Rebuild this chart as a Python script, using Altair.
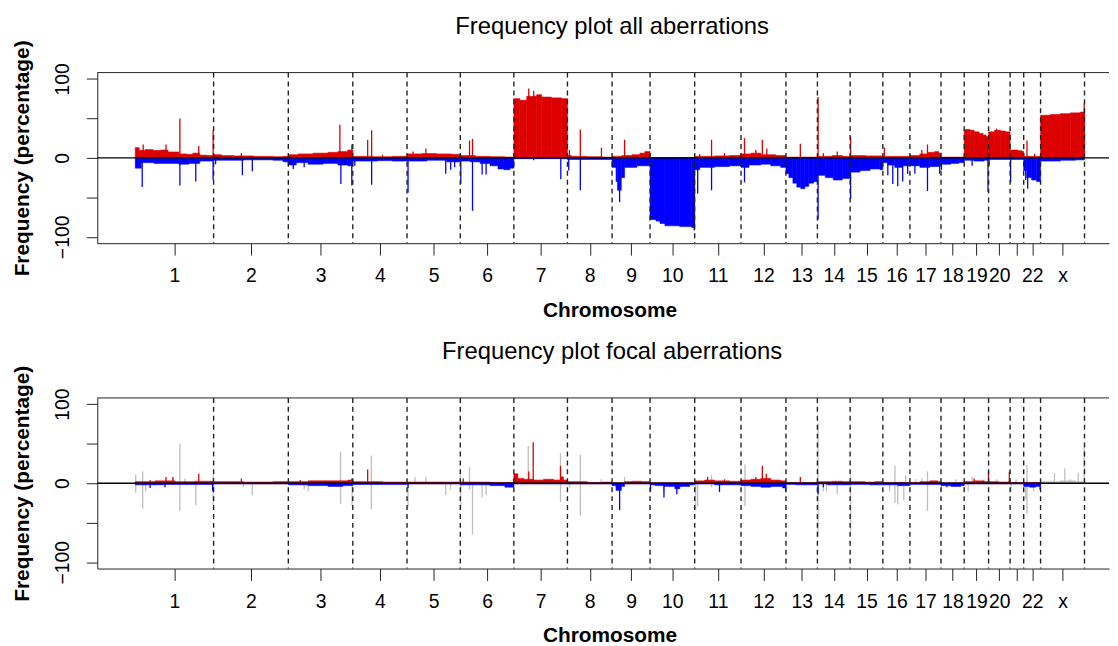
import json
from collections import defaultdict

import altair as alt
import pandas as pd

# ---------------- data ----------------
chrom_names = ["1", "2", "3", "4", "5", "6", "7", "8", "9", "10", "11", "12",
               "13", "14", "15", "16", "17", "18", "19", "20", "21", "22", "x"]
# relative chromosome lengths (probe-position units)
chrom_sizes = [790, 753, 650, 547, 537, 540, 540, 450, 383, 450, 467, 453,
               317, 330, 330, 273, 313, 234, 246, 217, 137, 170, 443]
unlabelled_ticks = ["21"]
y_ticks = [-100, -50, 0, 50, 100]
y_labelled = [-100, 0, 100]
panel_titles = ["Frequency plot all aberrations", "Frequency plot focal aberrations"]

# (chromosome, position within chromosome, frequency %) step profiles
all_gain_steps = [
    ("1", 0, 13), ("1", 40, 9.5), ("1", 100, 10.5), ("1", 180, 9.5), ("1", 260, 10), ("1", 330, 7.5),
    ("1", 440, 5), ("1", 520, 4.5), ("1", 580, 6), ("1", 650, 3.5), ("1", 720, 3),
    ("2", 0, 4), ("2", 80, 3), ("2", 200, 2.5), ("2", 400, 2), ("2", 600, 1.5), ("2", 700, 2),
    ("3", 0, 4), ("3", 100, 5), ("3", 250, 6), ("3", 400, 7), ("3", 500, 8), ("3", 600, 10),
    ("4", 0, 2), ("4", 200, 1.5), ("4", 400, 2),
    ("5", 0, 5), ("5", 150, 5.5), ("5", 300, 5), ("5", 450, 4.5),
    ("6", 0, 3), ("6", 150, 2), ("6", 300, 1.5), ("6", 450, 1),
    ("7", 0, 75), ("7", 60, 73), ("7", 130, 78), ("7", 230, 80), ("7", 280, 77), ("7", 380, 76), ("7", 480, 75),
    ("8", 0, 3), ("8", 40, 2), ("8", 200, 1.5), ("8", 350, 1),
    ("9", 0, 2), ("9", 100, 3), ("9", 200, 4), ("9", 280, 6), ("9", 330, 8),
    ("10", 0, 0.5),
    ("11", 0, 2), ("11", 200, 2.5), ("11", 350, 3),
    ("12", 0, 5), ("12", 100, 6), ("12", 200, 4), ("12", 350, 3),
    ("13", 0, 1),
    ("14", 0, 2), ("14", 150, 3), ("14", 250, 2),
    ("15", 0, 3), ("15", 150, 2.5),
    ("16", 0, 2),
    ("17", 0, 3), ("17", 100, 5), ("17", 180, 7), ("17", 250, 8), ("17", 290, 6),
    ("18", 0, 1),
    ("19", 0, 36), ("19", 60, 35), ("19", 100, 33), ("19", 150, 31), ("19", 190, 29), ("19", 220, 27),
    ("20", 0, 33), ("20", 60, 35), ("20", 120, 34), ("20", 170, 33),
    ("21", 0, 10), ("21", 80, 9), ("21", 120, 8),
    ("22", 0, 2),
    ("x", 0, 54), ("x", 100, 55), ("x", 200, 56), ("x", 300, 57), ("x", 400, 58),
]
all_loss_steps = [
    ("1", 0, -13), ("1", 60, -6), ("1", 190, -7), ("1", 440, -8), ("1", 540, -7), ("1", 650, -4),
    ("2", 0, -3), ("2", 300, -2.5), ("2", 600, -3), ("2", 700, -5),
    ("3", 0, -9), ("3", 80, -6), ("3", 200, -8), ("3", 350, -7), ("3", 500, -9), ("3", 600, -10),
    ("4", 0, -4), ("4", 250, -3.5), ("4", 400, -4),
    ("5", 0, -4), ("5", 200, -3), ("5", 400, -5),
    ("6", 0, -4), ("6", 100, -5), ("6", 200, -7), ("6", 300, -10), ("6", 380, -14), ("6", 440, -15), ("6", 500, -13),
    ("7", 0, -1),
    ("8", 0, -2),
    ("9", 0, -12), ("9", 40, -30), ("9", 55, -41), ("9", 93, -25), ("9", 126, -12), ("9", 250, -10),
    ("10", 0, -78), ("10", 60, -80), ("10", 100, -83), ("10", 150, -86), ("10", 300, -87), ("10", 420, -88),
    ("11", 0, -15), ("11", 50, -12), ("11", 200, -11), ("11", 350, -10),
    ("12", 0, -12), ("12", 80, -9), ("12", 200, -8), ("12", 300, -10), ("12", 400, -12),
    ("13", 0, -20), ("13", 30, -25), ("13", 70, -32), ("13", 110, -37), ("13", 150, -39), ("13", 190, -36),
    ("13", 230, -32), ("13", 280, -30),
    ("14", 0, -22), ("14", 80, -25), ("14", 160, -28), ("14", 250, -26),
    ("15", 0, -18), ("15", 100, -16), ("15", 200, -14), ("15", 300, -15),
    ("16", 0, -6), ("16", 50, -9), ("16", 120, -12), ("16", 200, -10),
    ("17", 0, -10), ("17", 100, -12), ("17", 200, -11), ("17", 300, -8),
    ("18", 0, -8), ("18", 100, -7), ("18", 180, -6),
    ("19", 0, -3), ("19", 100, -4), ("19", 200, -3),
    ("20", 0, -2),
    ("21", 0, -2),
    ("22", 0, -16), ("22", 30, -25), ("22", 80, -28), ("22", 130, -30),
    ("x", 0, -4), ("x", 200, -3), ("x", 350, -2.5),
]
all_gain_spikes = [
    ("1", 80, 17), ("1", 310, 17), ("1", 450, 50), ("1", 640, 15), ("1", 785, 35),
    ("2", 280, 6), ("3", 520, 42), ("3", 640, 17),
    ("4", 150, 23), ("4", 190, 35), ("4", 300, 4), ("5", 60, 8), ("5", 190, 12),
    ("6", 93, 22), ("6", 123, 24), ("7", 150, 88), ("7", 200, 85),
    ("8", 20, 10), ("8", 130, 36), ("8", 343, 13), ("9", 126, 23),
    ("11", 50, 5), ("11", 170, 23), ("11", 300, 6),
    ("12", 35, 25), ("12", 150, 10), ("12", 215, 23), ("12", 260, 12),
    ("13", 145, 18), ("14", 7, 77), ("14", 60, 6), ("14", 200, 8),
    ("15", 5, 27), ("16", 15, 13), ("17", 120, 10), ("17", 177, 17),
    ("20", 80, 37), ("22", 33, 22), ("22", 110, 5), ("x", 440, 69),
]
all_loss_spikes = [
    ("1", 70, -37), ("1", 450, -35), ("1", 610, -30), ("1", 785, -28),
    ("2", 20, -8), ("2", 290, -22), ("2", 390, -17),
    ("3", 50, -14), ("3", 160, -12), ("3", 530, -33), ("3", 640, -35),
    ("4", 20, -10), ("4", 190, -34),
    ("5", 10, -44), ("5", 390, -20), ("5", 440, -15), ("5", 480, -12),
    ("6", 5, -33), ("6", 123, -67), ("6", 220, -21), ("6", 260, -21),
    ("7", 200, -3), ("7", 473, -27), ("8", 13, -16), ("8", 130, -41),
    ("9", 76, -56), ("10", 445, -92), ("11", 30, -45), ("11", 170, -41),
    ("12", 35, -31), ("14", 7, -78), ("15", 5, -52),
    ("16", 50, -22), ("16", 100, -33), ("16", 150, -36), ("16", 200, -30), ("16", 250, -20),
    ("17", 50, -20), ("17", 177, -42), ("17", 300, -20), ("18", 5, -15),
    ("19", 80, -10), ("19", 240, -43), ("20", 5, -10), ("21", 5, -31),
    ("22", 20, -28), ("22", 40, -39),
]

focal_gain_steps = [
    ("1", 0, 2), ("1", 200, 3), ("1", 400, 2), ("1", 600, 2.5),
    ("2", 0, 2), ("2", 300, 1.5), ("2", 600, 2),
    ("3", 0, 2), ("3", 200, 3), ("3", 600, 4),
    ("4", 0, 2), ("4", 300, 1.5),
    ("5", 0, 1.5),
    ("6", 0, 1.5), ("6", 300, 1),
    ("7", 0, 12), ("7", 40, 6), ("7", 100, 5), ("7", 200, 4), ("7", 300, 5), ("7", 400, 4), ("7", 470, 8), ("7", 500, 4),
    ("8", 0, 2), ("8", 200, 1), ("8", 350, 1.5),
    ("9", 0, 0.5), ("9", 126, 2), ("9", 200, 2.5), ("9", 300, 2),
    ("10", 0, 0.5),
    ("11", 0, 3), ("11", 100, 4), ("11", 200, 3), ("11", 350, 2.5),
    ("12", 0, 4), ("12", 100, 5), ("12", 200, 6), ("12", 300, 4), ("12", 400, 3),
    ("13", 0, 1),
    ("14", 0, 2), ("14", 150, 2.5), ("14", 250, 2),
    ("15", 0, 2), ("15", 150, 1.5), ("15", 250, 2),
    ("16", 0, 1),
    ("17", 0, 1), ("17", 100, 2), ("17", 200, 3), ("17", 280, 2),
    ("18", 0, 0.5),
    ("19", 0, 2), ("19", 100, 3), ("19", 200, 2),
    ("20", 0, 2), ("20", 100, 1.5), ("20", 200, 2),
    ("21", 0, 1),
    ("22", 0, 1),
]
focal_loss_steps = [
    ("1", 0, -2), ("1", 300, -1.5),
    ("2", 0, -1),
    ("3", 0, -2), ("3", 200, -3), ("3", 400, -4), ("3", 550, -3),
    ("4", 0, -1.5),
    ("5", 0, -1),
    ("6", 0, -2), ("6", 300, -3), ("6", 450, -5),
    ("7", 0, -1),
    ("8", 0, -1),
    ("9", 0, -3), ("9", 40, -9), ("9", 93, -4), ("9", 126, -1),
    ("10", 0, -2), ("10", 50, -3), ("10", 140, -4), ("10", 250, -7), ("10", 300, -4), ("10", 400, -2),
    ("11", 0, -1), ("11", 200, -2),
    ("12", 0, -3), ("12", 100, -4), ("12", 200, -5), ("12", 300, -4), ("12", 420, -6),
    ("13", 0, -1.5), ("13", 100, -2),
    ("14", 0, -1), ("14", 100, -2),
    ("15", 0, -1.5), ("15", 200, -2),
    ("16", 0, -2), ("16", 150, -3),
    ("17", 0, -1.5),
    ("18", 0, -3), ("18", 100, -4), ("18", 200, -3),
    ("19", 0, -1),
    ("20", 0, -1),
    ("21", 0, -1),
    ("22", 0, -4), ("22", 60, -5), ("22", 120, -4),
]
focal_gain_spikes = [
    ("1", 150, 4), ("1", 310, 8), ("1", 380, 8), ("1", 640, 12),
    ("2", 280, 6), ("3", 120, 4), ("3", 640, 6), ("4", 150, 17.5), ("6", 30, 6),
    ("7", 150, 15), ("7", 195, 52), ("7", 470, 22),
    ("11", 130, 8), ("11", 300, 5), ("12", 150, 8), ("12", 215, 22), ("12", 255, 12),
    ("13", 145, 8), ("19", 100, 6), ("19", 245, 15), ("20", 209, 15),
]
focal_loss_spikes = [
    ("1", 150, -6), ("1", 300, -5), ("1", 780, -10), ("5", 10, -6),
    ("9", 76, -34), ("10", 5, -10), ("10", 140, -18), ("10", 270, -14),
    ("11", 250, -11), ("12", 450, -10), ("14", 7, -14), ("14", 60, -5),
    ("18", 60, -5), ("22", 165, -8),
]
focal_other_spikes = [
    ("1", 5, 11), ("1", 5, -12), ("1", 75, 15), ("1", 75, -32), ("1", 105, -10), ("1", 380, 6),
    ("1", 450, 50), ("1", 450, -35), ("1", 500, 6), ("1", 610, -28), ("1", 785, 10), ("1", 785, -28),
    ("2", 300, -5), ("2", 390, -15),
    ("3", 160, -8), ("3", 200, -10), ("3", 527, 40), ("3", 527, -26), ("3", 643, -28),
    ("4", 187, 35), ("4", 187, -33),
    ("5", 10, -30), ("5", 80, 8), ("5", 190, 8), ("5", 390, -15), ("5", 440, -8),
    ("6", 0, 10), ("6", 5, -30), ("6", 93, 20), ("6", 93, -8), ("6", 123, -65), ("6", 220, -18), ("6", 260, -15),
    ("7", 145, 47), ("7", 470, 38), ("7", 470, -24),
    ("8", 20, -5), ("8", 130, 36), ("8", 130, -41), ("8", 340, 5),
    ("9", 40, -5), ("9", 126, 8),
    ("10", 140, -12), ("10", 200, -5),
    ("11", 10, -34), ("11", 30, -29), ("11", 170, 10), ("11", 170, -5),
    ("12", 40, 24), ("12", 40, -29),
    ("14", 7, 76), ("14", 7, -68), ("14", 60, -10), ("14", 90, -10), ("14", 200, -14),
    ("15", 5, -60), ("15", 5, 10),
    ("16", 68, -10), ("16", 122, 22), ("16", 122, -25), ("16", 150, -27), ("16", 211, -22), ("16", 230, 10),
    ("17", 60, 5), ("17", 120, 6), ("17", 177, 15), ("17", 177, -35),
    ("18", 5, -10), ("18", 150, 5),
    ("19", 40, -10), ("19", 80, 8), ("19", 200, 5),
    ("20", 80, 5), ("21", 10, -10), ("21", 60, 5),
    ("22", 20, -20), ("22", 33, 23), ("22", 33, -39), ("22", 100, -10),
    ("x", 140, 13), ("x", 245, 19), ("x", 300, 5), ("x", 380, 13), ("x", 440, 45),
]
focal_other_steps = [("x", 0, 2), ("x", 200, 3), ("x", 350, 2)]

# ---------------- derived positions ----------------
size_of = dict(zip(chrom_names, chrom_sizes))
offset_of = {}
acc = 0
for n, s in zip(chrom_names, chrom_sizes):
    offset_of[n] = acc
    acc += s
genome_len = acc
x_pad = round(genome_len * 0.04)
chrom_ends = [offset_of[n] + size_of[n] for n in chrom_names]
chrom_centers = [offset_of[n] + size_of[n] / 2 for n in chrom_names]

W, H = 1020, 172
x_domain = [-x_pad, -x_pad + W * 10]
y_domain = [-108, 108]

RED, BLUE, GREY = "#dc0000", "#0000ff", "#bebebe"
FONT = "Liberation Sans"
INK = "#222222"


def steps_df(steps):
    by = defaultdict(list)
    for c, s, v in steps:
        by[c].append((s, v))
    rows = []
    for c, lst in by.items():
        lst.sort()
        for i, (s, v) in enumerate(lst):
            e = lst[i + 1][0] if i + 1 < len(lst) else size_of[c]
            rows.append({"x": offset_of[c] + s, "x2": offset_of[c] + e, "y": 0.0, "y2": float(v)})
    return pd.DataFrame(rows)


def spikes_df(spikes):
    return pd.DataFrame([{"x": offset_of[c] + p, "y": 0.0, "y2": float(v)} for c, p, v in spikes])


tick_labels = ["" if n in unlabelled_ticks else n for n in chrom_names]
x_label_expr = f"{json.dumps(tick_labels)}[indexof({json.dumps(chrom_centers)}, datum.value)]"
y_label_expr = f"indexof({json.dumps(y_labelled)}, datum.value) >= 0 ? datum.label : ''"

x_axis = alt.Axis(
    values=chrom_centers, labelExpr=x_label_expr, grid=False,
    tickSize=12, tickColor=INK, tickWidth=1, domainColor=INK, domainWidth=1,
    labelFont=FONT, labelFontSize=19.5, labelColor="black", labelBaseline="alphabetic",
    labelPadding=27, labelOverlap=False, labelFlush=False,
    title="Chromosome", titleFont=FONT, titleFontSize=21, titleFontWeight="bold", titleColor="black",
    titleX=W / 2 + 6.5, titleY=73.5, titleAlign="center", titleBaseline="alphabetic",
)
y_axis = alt.Axis(
    values=y_ticks, labelExpr=y_label_expr, grid=False,
    tickSize=11, tickColor=INK, tickWidth=1, domainColor=INK, domainWidth=1,
    labelFont=FONT, labelFontSize=19.5, labelColor="black", labelAngle=270,
    labelAlign="center", labelBaseline="alphabetic", labelPadding=17.5, labelOverlap=False,
    title="Frequency (percentage)", titleFont=FONT, titleFontSize=21, titleFontWeight="bold",
    titleColor="black", titleAngle=270, titleAlign="center", titleBaseline="alphabetic",
    titleX=-69.4, titleY=H / 2,
)
X = alt.X("x:Q", scale=alt.Scale(domain=x_domain, nice=False, zero=False), axis=x_axis)
Y = alt.Y("y:Q", scale=alt.Scale(domain=y_domain, nice=False, zero=False), axis=y_axis)


def panel(title, gsteps, lsteps, gspikes, lspikes, osteps, ospikes):
    layers = []
    if ospikes:
        layers.append(alt.Chart(spikes_df(ospikes)).mark_rule(color=GREY, strokeWidth=1.3)
                      .encode(x=X, y=Y, y2="y2:Q"))
    if osteps:
        layers.append(alt.Chart(steps_df(osteps)).mark_rect(fill=GREY, stroke=GREY, strokeWidth=0.6)
                      .encode(x=X, x2="x2:Q", y=Y, y2="y2:Q"))
    layers.append(alt.Chart(steps_df(gsteps)).mark_rect(fill=RED, stroke=RED, strokeWidth=0.6)
                  .encode(x=X, x2="x2:Q", y=Y, y2="y2:Q"))
    layers.append(alt.Chart(steps_df(lsteps)).mark_rect(fill=BLUE, stroke=BLUE, strokeWidth=0.6)
                  .encode(x=X, x2="x2:Q", y=Y, y2="y2:Q"))
    layers.append(alt.Chart(spikes_df(gspikes)).mark_rule(color=RED, strokeWidth=1.3)
                  .encode(x=X, y=Y, y2="y2:Q"))
    layers.append(alt.Chart(spikes_df(lspikes)).mark_rule(color=BLUE, strokeWidth=1.3)
                  .encode(x=X, y=Y, y2="y2:Q"))
    one = pd.DataFrame({"k": [0]})
    layers.append(alt.Chart(one).mark_rule(color="black", strokeWidth=1.3)
                  .encode(y=alt.Y(datum=0)))
    layers.append(alt.Chart(pd.DataFrame({"x": chrom_ends})).mark_rule(
        color=INK, strokeWidth=1.4, strokeDash=[5, 4]).encode(x=X))
    layers.append(alt.Chart(one).mark_rule(color=INK, strokeWidth=1)
                  .encode(x=alt.value(0), x2=alt.value(W), y=alt.value(0)))
    layers.append(alt.Chart(pd.DataFrame({"t": [title]})).mark_text(
        font=FONT, fontSize=24, color="black", align="center", baseline="alphabetic")
        .encode(text="t:N", x=alt.value(W / 2 + 9), y=alt.value(-39)))
    return alt.layer(*layers).properties(width=W, height=H)


top = panel(panel_titles[0], all_gain_steps, all_loss_steps,
            all_gain_spikes, all_loss_spikes, [], [])
bottom = panel(panel_titles[1], focal_gain_steps, focal_loss_steps,
               focal_gain_spikes, focal_loss_spikes, focal_other_steps, focal_other_spikes)

chart = alt.vconcat(top, bottom, spacing=156, bounds="flush").properties(
    padding={"left": 3, "top": 4.5, "right": 0, "bottom": 0},
    background="white",
).configure_view(stroke=None)

chart.save("out.html", embed_options={"renderer": "svg", "actions": False})
